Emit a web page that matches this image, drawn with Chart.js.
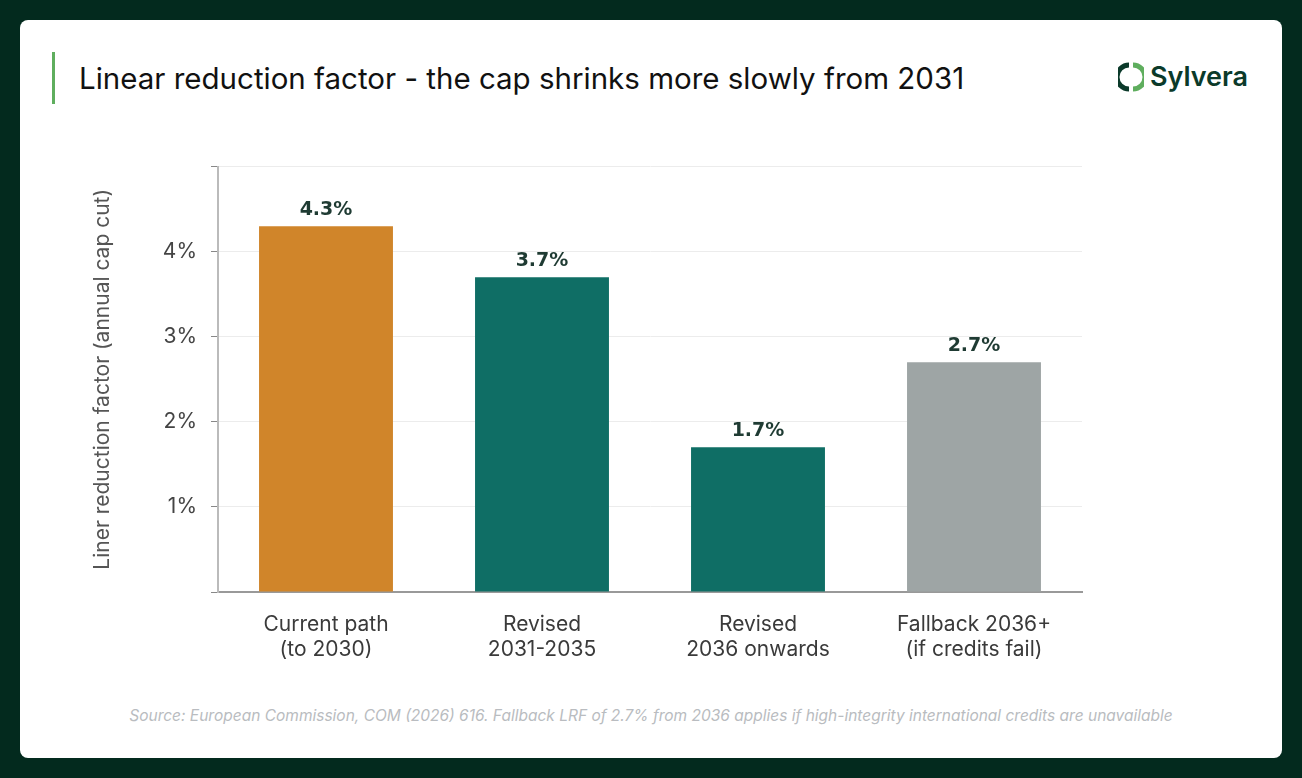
<!DOCTYPE html>
<html><head><meta charset="utf-8">
<script src="https://cdn.jsdelivr.net/npm/chart.js@4"></script>
<style>
body{margin:0;background:#032a1e;width:1302px;height:778px;overflow:hidden;font-family:Inter,"Noto Sans",sans-serif}
#card{position:absolute;left:20px;top:20px;width:1262px;height:738px;background:#fff;border-radius:8px}
#title{position:absolute;left:32px;top:32px;height:52px;border-left:3px solid #5fae5e;padding-left:24px;font-size:29.5px;line-height:52px;color:#111}
#logo{position:absolute;right:34px;top:40px;font-size:27px;font-weight:600;color:#0b3a2a;display:flex;align-items:center;gap:6px}
#wrap{position:absolute;left:60px;top:120px;width:1010px;height:540px}
#src{position:absolute;left:0;width:100%;top:686px;text-align:center;font-size:15.5px;font-style:italic;color:#b9bcc0}
</style></head><body>
<div id="card">
<div id="title">Linear reduction factor - the cap shrinks more slowly from 2031</div>
<div id="logo"><svg width="26" height="30" viewBox="0 0 26 30"><path d="M11 3 A12 12 0 0 0 11 27" stroke="#0b3a2a" stroke-width="5" fill="none"/><path d="M15 3 A12 12 0 0 1 15 27" stroke="#5fae5e" stroke-width="5" fill="none"/></svg>Sylvera</div>
<div id="wrap"><canvas id="c"></canvas></div>
<div id="src">Source: European Commission, COM (2026) 616. Fallback LRF of 2.7% from 2036 applies if high-integrity international credits are unavailable</div>
</div>
<script>
const categories = [["Current path", "(to 2030)"], ["Revised", "2031-2035"], ["Revised", "2036 onwards"], ["Fallback 2036+", "(if credits fail)"]];
const values = [4.3, 3.7, 1.7, 2.7];
const barColors = ["#d0852a", "#0f6e65", "#0f6e65", "#9ea5a5"];
const tickValues = [1, 2, 3, 4];

const valueLabels = {
  id: "valueLabels",
  afterDatasetsDraw(chart) {
    const ctx = chart.ctx;
    ctx.save();
    ctx.font = "bold 19px 'DejaVu Sans', sans-serif";
    ctx.fillStyle = "#1f3b33";
    ctx.textAlign = "center";
    ctx.textBaseline = "bottom";
    chart.getDatasetMeta(0).data.forEach((bar, i) => {
      ctx.fillText(values[i].toFixed(1) + "%", bar.x, bar.y - 7);
    });
    ctx.restore();
  },
};

new Chart(document.getElementById("c"), {
  type: "bar",
  data: { labels: categories, datasets: [{ data: values, backgroundColor: barColors, barPercentage: 0.62, categoryPercentage: 1 }] },
  options: {
    responsive: true,
    maintainAspectRatio: false,
    animation: false,
    layout: { padding: { top: 20, right: 8 } },
    plugins: { legend: { display: false }, tooltip: { enabled: false } },
    scales: {
      x: {
        grid: { display: false },
        border: { color: "#999", width: 2 },
        ticks: { color: "#3a3a3a", font: { size: 21, family: "Inter" }, padding: 12 },
        afterFit(s) { s.height = 88; },
      },
      y: {
        min: 0,
        max: 5,
        afterBuildTicks(s) { s.ticks = [0, ...tickValues, 5].map((v) => ({ value: v })); },
        grid: { color: "#ececec", tickColor: "#888", tickLength: 7 },
        border: { color: "#bbb", width: 2 },
        ticks: {
          color: "#444",
          font: { size: 21, family: "Inter" },
          padding: 14,
          callback: (v) => (tickValues.includes(v) ? v + "%" : ""),
        },
        title: { display: true, text: "Liner reduction factor (annual cap cut)", color: "#555", font: { size: 21, family: "Inter" }, padding: { top: 10, bottom: 14 } },
        afterFit(s) { s.width = 138; },
      },
    },
  },
  plugins: [valueLabels],
});
</script>
</body></html>
